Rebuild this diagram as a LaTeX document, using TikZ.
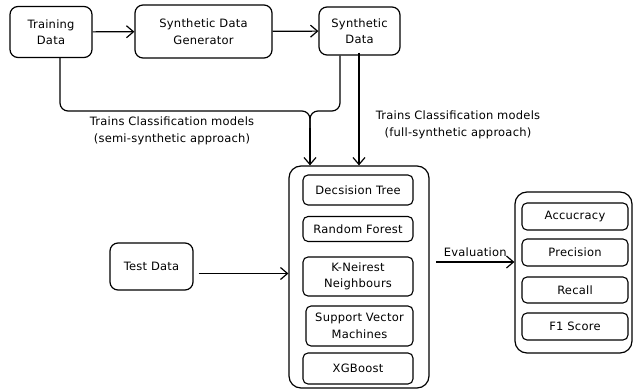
\documentclass[tikz,border=0pt]{standalone}
\usepackage{fontspec}
\setmainfont[LetterSpace=2]{DejaVu Sans}
\usetikzlibrary{arrows.meta,calc}
\begin{document}
\begin{tikzpicture}[x=1pt,y=-1pt,
  every node/.style={font=\fontsize{11.5}{16.5}\selectfont},
  box/.style={draw, line width=1.2pt, rounded corners=8pt, align=center, inner sep=0pt},
  ibox/.style={draw, line width=1.1pt, rounded corners=5pt, align=center, inner sep=0pt, minimum width=110pt},
  arr/.style={line width=1.2pt, -{Straight Barb[length=7pt,width=12pt,line width=1.2pt]}},
  ln/.style={line width=1.2pt}
]
\useasboundingbox (0,0) rectangle (633,390);
% top row
\node[box, minimum width=82pt, minimum height=51pt] (train) at (51,32) {Training\\Data};
\node[box, minimum width=137pt, minimum height=53pt] (gen) at (203.5,31.5) {Synthetic Data\\Generator};
\node[box, minimum width=81pt, minimum height=48pt] (synth) at (359.5,31) {Synthetic\\Data};
\draw[arr] (train) -- (gen);
\draw[arr] (gen) -- (synth);
% models container
\node[box, rounded corners=12pt, minimum width=140pt, minimum height=222pt] (models) at (359,277) {};
\node[ibox, minimum height=30pt] (dt) at (358,190) {Decsision Tree};
\node[ibox, minimum height=25pt] (rf) at (358,229) {Random Forest};
\node[ibox, minimum height=39pt] (knn) at (358,276.5) {K-Neirest\\Neighbours};
\node[ibox, minimum height=40pt, minimum width=107pt] (svm) at (359.5,326) {Support Vector\\Machines};
\node[ibox, minimum height=31pt] (xgb) at (358,368.5) {XGBoost};
% metrics container
\node[box, rounded corners=12pt, minimum width=117pt, minimum height=161pt] (metrics) at (573.5,272.5) {};
\node[ibox, minimum width=106pt, minimum height=27pt] (acc) at (575,216.5) {Accucracy};
\node[ibox, minimum width=106pt, minimum height=27pt] (prec) at (575,252.5) {Precision};
\node[ibox, minimum width=106pt, minimum height=26pt] (rec) at (575,290) {Recall};
\node[ibox, minimum width=106pt, minimum height=27pt] (f1) at (575,326.5) {F1 Score};
% test data
\node[box, minimum width=83pt, minimum height=47pt] (test) at (151.5,266.5) {Test Data};
\draw[arr] ([yshift=-7pt]test.east) ++(5pt,0) -- ([yshift=-7pt]test.east -| models.west);
% training connectors
\coordinate (fork) at (310,111);
\draw[ln, rounded corners=8pt] ([xshift=9pt]train.south) |- (fork) -- (fork |- 0,130);
\draw[ln, rounded corners=8pt] ([xshift=-19.5pt]synth.south) |- (fork) -- (fork |- 0,130);
\draw[arr] (fork |- 0,128) -- (fork |- models.north);
\node[align=center] (semi) at (172,131) {Trains Classification models\\(semi-synthetic approach)};
\draw[arr] ([xshift=-0.5pt,yshift=3pt]synth.south) -- (models.north);
\node[align=center] (full) at (458,125) {Trains Classification models\\(full-synthetic approach)};
% evaluation
\coordinate (ev) at (436,262);
\draw[arr] (ev) -- (ev -| metrics.west) node[midway, above=1pt] (evl) {Evaluation};
\end{tikzpicture}
\end{document}
